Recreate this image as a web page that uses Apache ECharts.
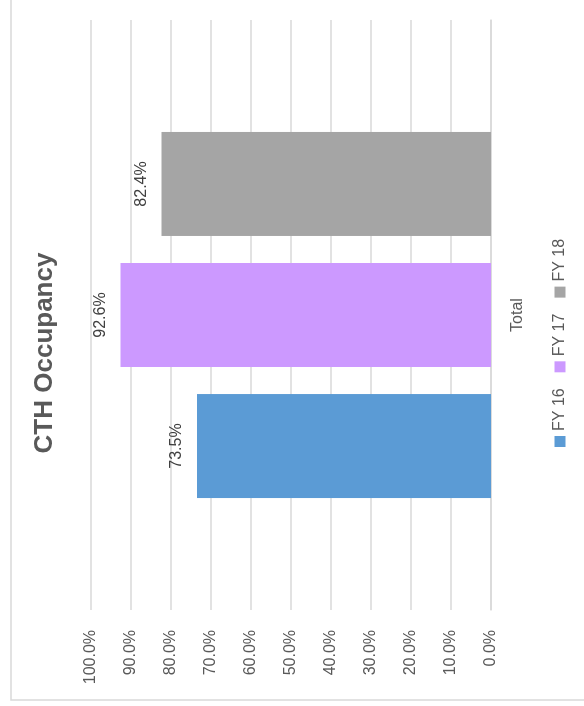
<!DOCTYPE html>
<html>
<head>
<meta charset="utf-8">
<script src="https://cdn.jsdelivr.net/npm/echarts@6/dist/echarts.min.js"></script>
<style>
  html, body { margin: 0; padding: 0; width: 584px; height: 706px; overflow: hidden; background: #fff; }
  /* The column chart is laid out landscape and turned a quarter turn counter-clockwise */
  #chart {
    position: absolute; left: 0; top: 0;
    width: 706px; height: 584px;
    transform-origin: 0 0;
    transform: translateY(706px) rotate(-90deg);
  }
</style>
</head>
<body>
<div id="chart"></div>
<script>
// Chart data
const categories = ['Total'];
const seriesNames = ['FY 16', 'FY 17', 'FY 18'];
const fy16 = [0.735];
const fy17 = [0.926];
const fy18 = [0.824];
const valueTicks = [0, 0.1, 0.2, 0.3, 0.4, 0.5, 0.6, 0.7, 0.8, 0.9, 1.0];

const colors = ['#5B9BD5', '#CC99FF', '#A5A5A5'];
const FONT = '"Liberation Sans", Arial, sans-serif';
const pct = v => (v * 100).toFixed(1) + '%';

const chart = echarts.init(document.getElementById('chart'), null, { renderer: 'canvas' });

function barSeries(name, data, color) {
  return {
    name: name,
    type: 'bar',
    data: data,
    barWidth: 104,
    barGap: '26%',
    itemStyle: { color: color },
    label: {
      show: true,
      position: 'top',
      distance: 12,
      formatter: p => pct(p.value),
      color: '#404040',
      fontFamily: FONT,
      fontSize: 16
    }
  };
}

chart.setOption({
  animation: false,
  backgroundColor: '#fff',
  title: {
    text: 'CTH Occupancy',
    left: 'center',
    top: 27,
    textStyle: { color: '#595959', fontFamily: FONT, fontWeight: 'bold', fontSize: 26 }
  },
  graphic: [{
    type: 'rect',
    shape: { x: 6, y: 11, width: 760, height: 640 },
    style: { fill: 'none', stroke: '#d9d9d9', lineWidth: 1.5 },
    silent: true, z: -1
  }],
  legend: {
    data: seriesNames,
    left: 259,
    top: 552,
    padding: 0,
    itemWidth: 11,
    itemHeight: 11,
    itemGap: 16,
    icon: 'rect',
    textStyle: { color: '#595959', fontFamily: FONT, fontSize: 16 }
  },
  grid: { left: 96, right: 20, top: 91, bottom: 93, containLabel: false },
  xAxis: {
    type: 'category',
    data: categories,
    axisLine: { show: true, lineStyle: { color: '#d9d9d9', width: 1.5 } },
    axisTick: { show: false },
    axisLabel: { color: '#595959', fontFamily: FONT, fontSize: 16, margin: 19 }
  },
  yAxis: {
    type: 'value',
    min: valueTicks[0],
    max: valueTicks[valueTicks.length - 1],
    interval: 0.1,
    axisLine: { show: false },
    axisTick: { show: false },
    splitLine: { lineStyle: { color: '#d9d9d9', width: 1.5 } },
    axisLabel: { color: '#595959', fontFamily: FONT, fontSize: 16, margin: 20, formatter: v => pct(v) }
  },
  series: [
    barSeries(seriesNames[0], fy16, colors[0]),
    barSeries(seriesNames[1], fy17, colors[1]),
    barSeries(seriesNames[2], fy18, colors[2])
  ]
});
</script>
</body>
</html>
